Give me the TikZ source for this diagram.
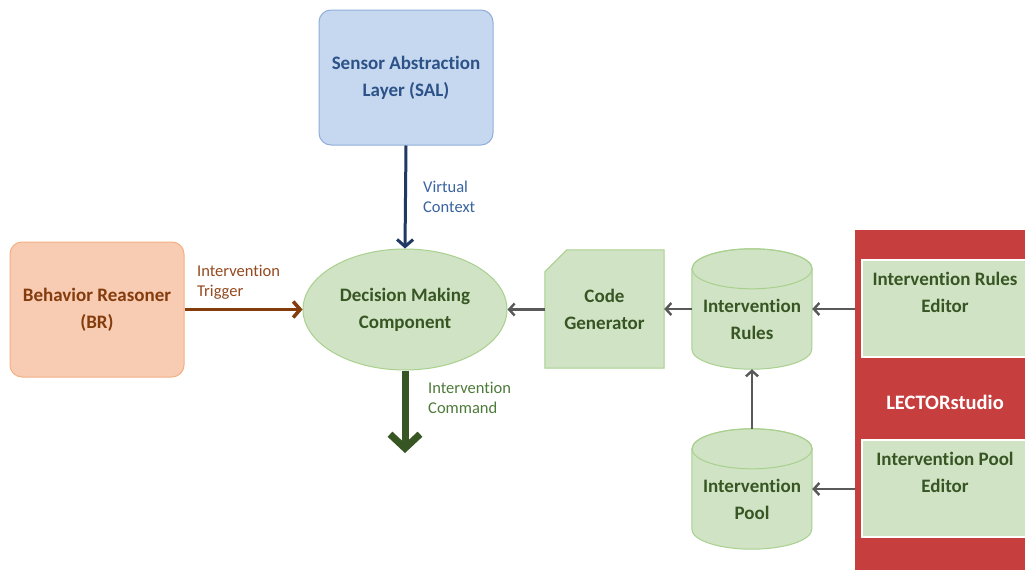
\documentclass[tikz,border=0pt]{standalone}
\usepackage{fontspec}
\setmainfont[Ligatures={NoCommon}]{Carlito}
\usetikzlibrary{arrows.meta,backgrounds,shapes.geometric}
\definecolor{salfill}{HTML}{C5D8EF}
\definecolor{salborder}{HTML}{8FAFDA}
\definecolor{saltext}{HTML}{2C5288}
\definecolor{salarrow}{HTML}{1F3864}
\definecolor{sallbl}{HTML}{3A64A0}
\definecolor{brfill}{HTML}{F8CBB3}
\definecolor{brborder}{HTML}{F4B183}
\definecolor{brtext}{HTML}{843C0C}
\definecolor{brlbl}{HTML}{94491E}
\definecolor{gfill}{HTML}{D0E3C5}
\definecolor{gborder}{HTML}{A9D18E}
\definecolor{gtext}{HTML}{375623}
\definecolor{garrow}{HTML}{375623}
\definecolor{glbl}{HTML}{4E7A3A}
\definecolor{grayarrow}{HTML}{595959}
\definecolor{lectorred}{HTML}{C73E3E}
\tikzset{
  bigtext/.style={font=\fontsize{19}{27}\selectfont\bfseries, align=center},
  lbl/.style={font=\fontsize{16.5}{20}\selectfont, align=left, inner sep=0pt, anchor=west},
  rbox/.style={bigtext, rounded corners=12pt, line width=1pt, minimum width=174pt, minimum height=135pt},
  gshape/.style={fill=gfill, draw=gborder, line width=1pt},
  gnode/.style={bigtext, text=gtext, inner sep=0pt},
  grayconn/.style={draw=grayarrow, line width=2.4pt, -{Straight Barb[length=5.5pt,width=12pt]}},
  edbox/.style={fill=gfill, draw=white, line width=2pt, minimum width=166pt, minimum height=97pt},
  edlabel/.style={bigtext, text=gtext, anchor=north, yshift=-9.5pt}
}
\begin{document}
\begin{tikzpicture}[x=1pt,y=1pt]
\useasboundingbox (0,0) rectangle (1025,-570);

% nodes
\node[rbox, fill=salfill, draw=salborder, text=saltext] (sal) at (406,-77.5) {Sensor Abstraction\\Layer (SAL)};
\node[rbox, fill=brfill, draw=brborder, text=brtext] (br) at (97,-309.5) {Behavior Reasoner\\(BR)};
\node[gnode, ellipse, gshape, minimum width=204pt, minimum height=121pt] (dmc) at (405,-309.5) {Decision Making\\Component};
\node[gnode, minimum width=119pt, minimum height=118pt] (cg) at (604.5,-309) {Code\\Generator};
\node[gnode, minimum width=120pt, minimum height=100pt] (rules) at (752,-319) {Intervention\\Rules};
\node[gnode, minimum width=120pt, minimum height=100pt] (pool) at (752,-499) {Intervention\\Pool};
\node[fill=lectorred, minimum width=180pt, minimum height=345pt, text=white, font=\fontsize{20.5}{24}\selectfont\bfseries] (lector) at (945,-402.5) {LECTORstudio};
\node[edbox, label={[edlabel]north:{Intervention Rules\\Editor}}] (rulesEd) at (945,-308.5) {};
\node[edbox, label={[edlabel]north:{Intervention Pool\\Editor}}] (poolEd) at (945,-488.5) {};

% shapes behind text
\begin{scope}[on background layer]
\fill[white] (0,0) rectangle (1025,-570);
\draw[gshape] ([yshift=-22pt]cg.north west) -- ([xshift=22pt]cg.north west) -- (cg.north east) -- (cg.south east) -- (cg.south west) -- cycle;
\foreach \c in {rules,pool}{
  \draw[gshape] (\c.north west) -- ([yshift=20pt]\c.south west)
     arc[start angle=180,end angle=360,x radius=60pt,y radius=20pt]
     -- (\c.north east)
     arc[start angle=0,end angle=180,x radius=60pt,y radius=20pt] -- cycle;
  \draw[gborder, line width=1pt] (\c.north) ellipse[x radius=60pt,y radius=20pt];
}
\end{scope}

% connectors
\coordinate (cmdEnd) at (405,-453);
\draw[salarrow, line width=3pt, -{Straight Barb[length=7pt,width=16pt]}] (sal.south) -- (dmc.north);
\draw[brtext, line width=3.5pt, -{Straight Barb[length=7pt,width=16pt]}] (br.east) -- (dmc.west);
\draw[garrow, line width=7pt, -{Straight Barb[length=14pt,width=30pt]}] (dmc.south) -- (cmdEnd);
\draw[grayconn] (cg.west |- dmc.east) -- (dmc.east);
\draw[grayconn] (rules.west |- cg.east) -- (cg.east);
\draw[grayconn] (cg.east -| lector.west) -- (cg.east -| rules.east);
\draw[grayconn] ([yshift=20pt]pool.north) -- (rules.south);
\draw[grayconn] ([yshift=10pt]pool.east -| lector.west) -- ([yshift=10pt]pool.east);

% labels
\node[lbl, text=sallbl] (lblVC) at (423,-197) {Virtual\\Context};
\node[lbl, text=brlbl] (lblIT) at (197,-282) {Intervention\\Trigger};
\node[lbl, text=glbl] (lblIC) at (428,-398) {Intervention\\Command};
\end{tikzpicture}
\end{document}
